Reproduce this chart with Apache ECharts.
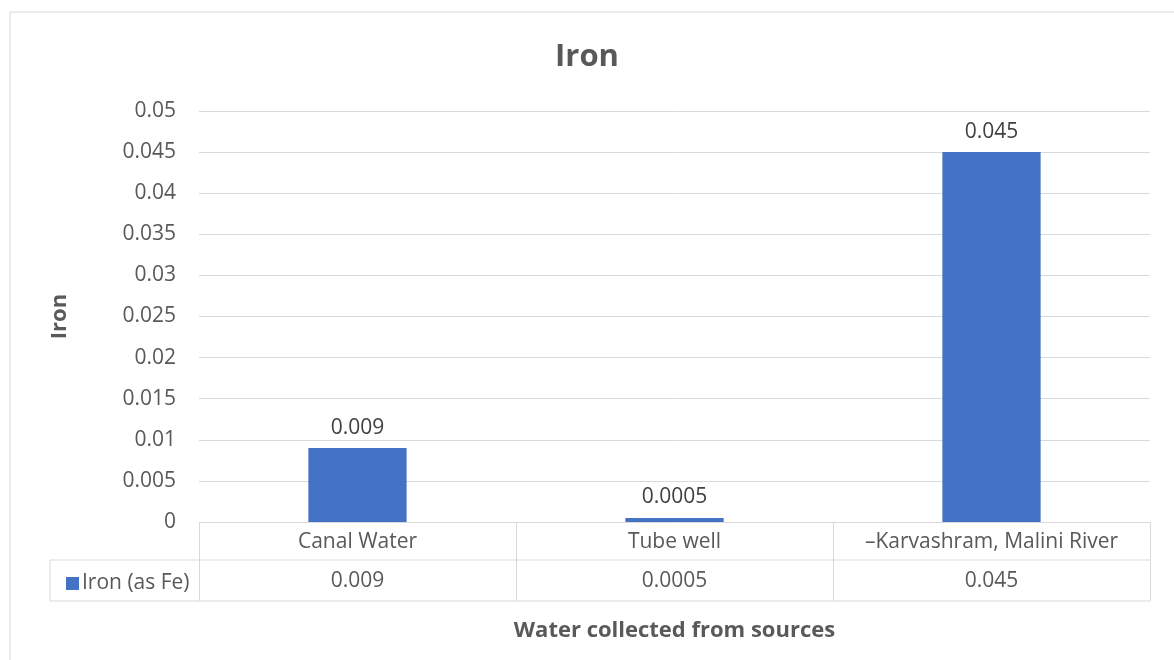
<!DOCTYPE html>
<html>
<head>
<meta charset="utf-8">
<script src="https://cdn.jsdelivr.net/npm/echarts@6/dist/echarts.min.js"></script>
<style>
  html, body { margin: 0; padding: 0; background: #fff; }
  #chart { width: 1174px; height: 660px; }
</style>
</head>
<body>
<div id="chart"></div>
<script>
// data
const sources = ["Canal Water", "Tube well", "\u2013Karvashram, Malini River"];
const ironValues = [0.009, 0.0005, 0.045];
const seriesName = "Iron (as Fe)";

const textColor = "#595959";
const lineColor = "#d9d9d9";
const font = "'Open Sans', sans-serif";

// table layout (px)
const gridLeft = 199, gridRight = 24, gridTop = 111, gridBottom = 138;
const axisY = 660 - gridBottom;   // 522
const row1 = axisY + 38;           // 560
const row2 = axisY + 79;           // 601
const tableLeft = 50;

const chart = echarts.init(document.getElementById("chart"));

const option = {
  animation: false,
  textStyle: { fontFamily: font },
  title: {
    text: "Iron",
    left: "center",
    top: 37,
    textStyle: { fontSize: 31, fontWeight: "bold", color: textColor, fontFamily: font }
  },
  legend: {
    data: [seriesName],
    left: 61,
    top: row1 + 8,
    icon: "rect",
    itemWidth: 13,
    itemHeight: 13,
    itemGap: 4,
    textStyle: { fontSize: 21, color: textColor, fontFamily: font, padding: [0, 0, 0, -2] }
  },
  grid: { left: gridLeft, right: gridRight, top: gridTop, bottom: gridBottom },
  xAxis: [
    {
      type: "category",
      data: sources,
      position: "bottom",
      name: "Water collected from sources",
      nameLocation: "middle",
      nameGap: 98,
      nameTextStyle: { fontSize: 22, fontWeight: "bold", color: textColor, fontFamily: font },
      axisLine: { show: true, lineStyle: { color: lineColor, width: 1 } },
      axisTick: { show: true, interval: 0, length: 79, lineStyle: { color: lineColor, width: 1 } },
      axisLabel: { interval: 0, hideOverlap: false, fontSize: 21, color: textColor, margin: 10, fontFamily: font },
      splitLine: { show: false }
    },
    {
      type: "category",
      data: sources,
      position: "bottom",
      offset: 38,
      axisLine: { show: false },
      axisTick: { show: false },
      axisLabel: {
        interval: 0, hideOverlap: false,
        fontSize: 21, color: textColor, margin: 11, fontFamily: font,
        formatter: (v, i) => String(ironValues[i])
      },
      splitLine: { show: false }
    }
  ],
  yAxis: {
    type: "value",
    min: 0,
    max: 0.05,
    interval: 0.005,
    name: "Iron",
    nameLocation: "middle",
    nameGap: 128,
    nameTextStyle: { fontSize: 22, fontWeight: "bold", color: textColor, fontFamily: font },
    axisLine: { show: false },
    axisTick: { show: false },
    axisLabel: { fontSize: 21, color: textColor, margin: 23, fontFamily: font },
    splitLine: { lineStyle: { color: lineColor, width: 1 } }
  },
  series: [
    {
      name: seriesName,
      type: "bar",
      data: ironValues,
      barWidth: "31%",
      itemStyle: { color: "#4472c4" },
      label: {
        show: true,
        position: "top",
        distance: 10,
        fontSize: 21,
        color: "#404040",
        fontFamily: font
      }
    }
  ],
  graphic: [
    {
      type: "rect",
      shape: { x: 10, y: 12, width: 1200, height: 700 },
      style: { fill: null, stroke: lineColor, lineWidth: 1 },
      silent: true
    },
    {
      type: "line",
      shape: { x1: tableLeft, y1: row1, x2: 1174 - gridRight, y2: row1 },
      style: { stroke: lineColor, lineWidth: 1 }
    },
    {
      type: "line",
      shape: { x1: tableLeft, y1: row2, x2: 1174 - gridRight, y2: row2 },
      style: { stroke: lineColor, lineWidth: 1 }
    },
    {
      type: "line",
      shape: { x1: tableLeft, y1: row1, x2: tableLeft, y2: row2 },
      style: { stroke: lineColor, lineWidth: 1 }
    }
  ]
};

chart.setOption(option);
</script>
</body>
</html>
